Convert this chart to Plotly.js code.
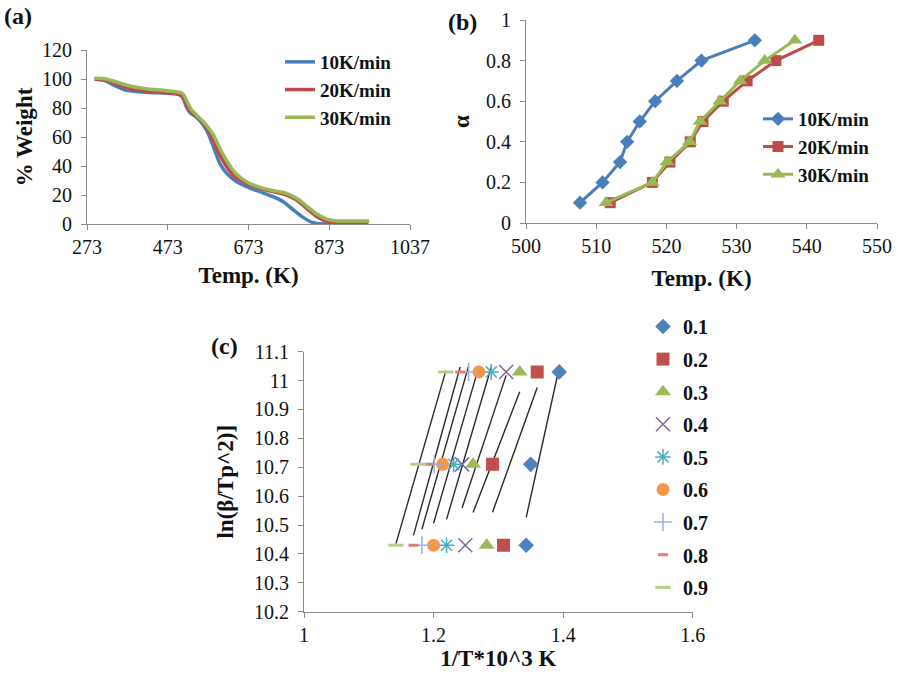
<!DOCTYPE html>
<html>
<head>
<meta charset="utf-8">
<script src="https://cdn.plot.ly/plotly-3.0.1.min.js"></script>
<style>html,body{margin:0;padding:0;background:#fff;}#chart{width:898px;height:681px;}</style>
</head>
<body>
<div id="chart"></div>
<script>
// ---------- Panel (a): TGA curves ----------
const tgaT10 = [292, 317, 338, 362, 395, 437, 478, 503, 511, 519, 528, 544, 561, 573, 586, 602, 619, 643, 668, 701, 734, 759, 784, 809, 833, 858, 873];
const tgaW10 = [100, 98.9, 95.9, 92.9, 91.3, 90.6, 90.1, 89, 86.7, 80.9, 76.8, 73.6, 68.3, 62.5, 53.3, 41.8, 34.9, 29.2, 25.7, 22.3, 18.9, 15.4, 9.7, 4.4, 0.9, 0, 0];
const tgaT20 = [292, 321, 346, 379, 420, 462, 503, 513, 521, 532, 548, 565, 582, 598, 619, 639, 668, 701, 734, 767, 792, 817, 842, 867, 891, 916, 970];
const tgaW20 = [99.8, 99.3, 96.6, 93.6, 91.7, 90.6, 89.4, 86.7, 81.4, 76.8, 73.6, 68.3, 60.2, 49.9, 39.5, 32.6, 28.0, 24.6, 22.3, 20.0, 16.6, 10.8, 5.1, 1.6, 0.5, 0.5, 0.5];
const tgaT30 = [292, 317, 346, 379, 420, 462, 499, 511, 519, 532, 544, 565, 586, 602, 623, 643, 668, 701, 734, 767, 792, 817, 842, 867, 891, 932, 972];
const tgaW30 = [100.5, 100.2, 97.9, 95.2, 93.3, 92.2, 91.0, 89.7, 85.5, 78.6, 75.2, 69.4, 61.4, 52.2, 41.8, 34.5, 29.2, 25.3, 23.0, 21.1, 17.7, 12.4, 6.9, 3.4, 2.1, 2.1, 2.1];
const tgaXTicks = [273, 473, 673, 873, 1073];
const tgaXTickText = ["273", "473", "673", "873", "1037"];
const rateNames = ["10K/min", "20K/min", "30K/min"];

// ---------- Panel (b): conversion vs temperature ----------
const alphaVals = [0.1, 0.2, 0.3, 0.4, 0.5, 0.6, 0.7, 0.8, 0.9];
const convT10 = [507.7, 510.9, 513.4, 514.4, 516.2, 518.4, 521.5, 525.0, 532.6];
const convT20 = [512.0, 518.0, 520.5, 523.4, 525.2, 528.1, 531.5, 535.6, 541.7];
const convT30 = [511.4, 518.0, 520.1, 523.3, 524.8, 527.6, 530.5, 534.0, 538.3];

// ---------- Panel (c): Kissinger-type plot ----------
const lnLevels = [11.03, 10.71, 10.43];
const invT_a01 = [1.394, 1.350, 1.343];
const invT_a02 = [1.360, 1.291, 1.308];
const invT_a03 = [1.333, 1.261, 1.282];
const invT_a04 = [1.312, 1.244, 1.249];
const invT_a05 = [1.289, 1.231, 1.220];
const invT_a06 = [1.270, 1.214, 1.200];
const invT_a07 = [1.254, 1.201, 1.182];
const invT_a08 = [1.241, 1.193, 1.169];
const invT_a09 = [1.219, 1.176, 1.142];
const alphaLabels = ["0.1", "0.2", "0.3", "0.4", "0.5", "0.6", "0.7", "0.8", "0.9"];

// ---------- styling ----------
const W = 898, H = 681;
const px = v => v / W, py = v => 1 - v / H;
const SERIF = "'Liberation Serif', 'DejaVu Serif', 'Times New Roman', serif";
const C_BLUE = "#4A7EBB", C_RED = "#BE4B48", C_GREEN = "#98B954";

const traces = [];
// (a)
[[tgaT10, tgaW10, C_BLUE], [tgaT20, tgaW20, C_RED], [tgaT30, tgaW30, C_GREEN]].forEach((s, i) => {
  traces.push({x: s[0], y: s[1], type: "scatter", mode: "lines", name: rateNames[i],
    line: {color: s[2], width: 3.5, shape: "spline", smoothing: 0.8},
    xaxis: "x", yaxis: "y", legend: "legend", legendgroup: "a" + i});
});
// (b)
const bSym = ["diamond", "square", "triangle-up"];
const bSize = [11, 11, 13];
[[convT10, C_BLUE], [convT20, C_RED], [convT30, C_GREEN]].forEach((s, i) => {
  traces.push({x: s[0], y: alphaVals, type: "scatter", mode: "lines+markers", name: rateNames[i],
    line: {color: s[1], width: 3},
    marker: {symbol: bSym[i], size: bSize[i], color: s[1]},
    xaxis: "x2", yaxis: "y2", legend: "legend2", legendgroup: "b" + i});
});
// (c)
const cSeries = [invT_a01, invT_a02, invT_a03, invT_a04, invT_a05, invT_a06, invT_a07, invT_a08, invT_a09];
const cStyle = [
  {symbol: "diamond", size: 12, color: "#4F81BD"},
  {symbol: "square", size: 13, color: "#C0504D"},
  {symbol: "triangle-up", size: 14, color: "#9BBB59"},
  {symbol: "x-thin-open", size: 14, color: "#8064A2", line: {width: 1.5, color: "#8064A2"}},
  {symbol: "asterisk-open", size: 13, color: "#4BACC6", line: {width: 1.5, color: "#4BACC6"}},
  {symbol: "circle", size: 13, color: "#F79646"},
  {symbol: "cross-thin-open", size: 13, color: "#9AB0DA", line: {width: 1.5, color: "#9AB0DA"}},
  {symbol: "line-ew-open", size: 7, color: "#E07B7B", line: {width: 3, color: "#E07B7B"}},
  {symbol: "line-ew-open", size: 11, color: "#B5D08A", line: {width: 3, color: "#B5D08A"}}
];
// trend lines (least squares fit of each series, over its data range)
cSeries.forEach((xs, i) => {
  const n = xs.length;
  const mx = xs.reduce((a, b) => a + b, 0) / n;
  const my = lnLevels.reduce((a, b) => a + b, 0) / n;
  let sxx = 0, sxy = 0;
  for (let k = 0; k < n; k++) { sxx += (xs[k] - mx) ** 2; sxy += (xs[k] - mx) * (lnLevels[k] - my); }
  const slope = sxy / sxx, icpt = my - slope * mx;
  const x0 = Math.min(...xs), x1 = Math.max(...xs);
  traces.push({x: [x0, x1], y: [icpt + slope * x0, icpt + slope * x1], type: "scatter", mode: "lines",
    line: {color: "#2a2a2a", width: 1.4}, showlegend: false, hoverinfo: "skip",
    xaxis: "x3", yaxis: "y3"});
});
cSeries.forEach((xs, i) => {
  traces.push({x: xs, y: lnLevels, type: "scatter", mode: "markers", name: alphaLabels[i],
    marker: cStyle[i], xaxis: "x3", yaxis: "y3", legend: "legend3", legendgroup: "c" + i});
});

const axBase = {
  showline: true, linecolor: "#8a8a8a", linewidth: 1, ticks: "outside", ticklen: 5, tickcolor: "#8a8a8a",
  showgrid: false, zeroline: false, fixedrange: true, automargin: true,
  tickfont: {family: SERIF, size: 20, color: "#111"}
};
const titleFont = {family: SERIF, size: 23, color: "#111", weight: "bold"};
const legBase = (x, y, gap, size) => ({
  x: x, y: y, xanchor: "left", yanchor: "top", bgcolor: "rgba(0,0,0,0)", borderwidth: 0,
  traceorder: "grouped", tracegroupgap: gap,
  font: {family: SERIF, size: size, color: "#111", weight: "bold"}
});
const panelFont = {family: SERIF, size: 24, color: "#111", weight: "bold"};

const layout = {
  width: W, height: H, margin: {l: 0, r: 0, t: 0, b: 0, autoexpand: false},
  font: {family: SERIF},
  paper_bgcolor: "#fff", plot_bgcolor: "#fff", showlegend: true,
  xaxis: Object.assign({}, axBase, {domain: [px(87), px(410)], anchor: "y", range: [273, 1073],
    tickmode: "array", tickvals: tgaXTicks, ticktext: tgaXTickText,
    title: {text: "Temp. (K)", font: titleFont, standoff: 9}}),
  yaxis: Object.assign({}, axBase, {domain: [py(224), py(50)], anchor: "x", range: [0, 120], dtick: 20,
    ticklabelstandoff: 5, title: {text: "% Weight", font: titleFont, standoff: 2}}),
  xaxis2: Object.assign({}, axBase, {domain: [px(526), px(877)], anchor: "y2", range: [500, 550], dtick: 10,
    title: {text: "Temp. (K)", font: titleFont, standoff: 13}}),
  yaxis2: Object.assign({}, axBase, {domain: [py(223), py(20)], anchor: "x2", range: [0, 1], dtick: 0.2,
    ticklabelstandoff: 5, title: {text: "α", font: titleFont, standoff: 9}}),
  xaxis3: Object.assign({}, axBase, {domain: [px(304), px(692.7)], anchor: "y3", range: [1, 1.6], dtick: 0.2,
    title: {text: "1/T*10^3 K", font: titleFont, standoff: 4}}),
  yaxis3: Object.assign({}, axBase, {domain: [py(611.7), py(351.7)], anchor: "x3", range: [10.2, 11.1], dtick: 0.1,
    ticklabelstandoff: 5, title: {text: "ln(β/Tp^2)]", font: titleFont, standoff: 13}}),
  legend: legBase(px(280), py(43), 0, 19),
  legend2: legBase(px(758), py(100), 0, 19),
  legend3: legBase(px(643), py(307), 3.6, 20),
  annotations: [
    {text: "(a)", x: px(2), y: py(16), xref: "paper", yref: "paper", xanchor: "left", yanchor: "middle", showarrow: false, font: panelFont},
    {text: "(b)", x: px(446), y: py(22), xref: "paper", yref: "paper", xanchor: "left", yanchor: "middle", showarrow: false, font: panelFont},
    {text: "(c)", x: px(209), y: py(346), xref: "paper", yref: "paper", xanchor: "left", yanchor: "middle", showarrow: false, font: panelFont}
  ]
};

Plotly.newPlot("chart", traces, layout, {displayModeBar: false, staticPlot: true});
</script>
</body>
</html>
